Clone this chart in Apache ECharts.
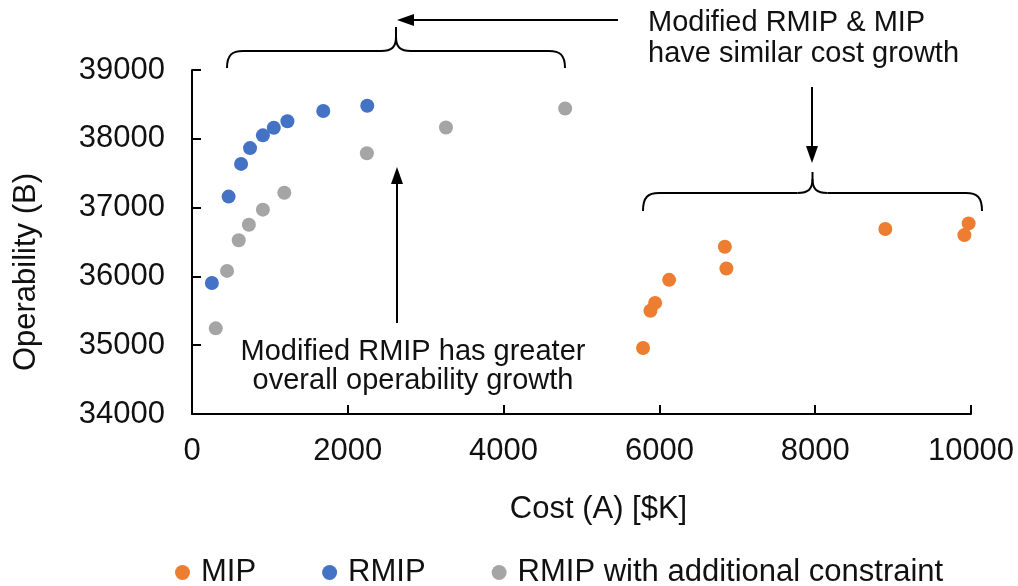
<!DOCTYPE html>
<html>
<head>
<meta charset="utf-8">
<script src="https://cdn.jsdelivr.net/npm/echarts@6/dist/echarts.min.js"></script>
<style>
html,body{margin:0;padding:0;background:#fff;}
#chart{width:1018px;height:586px;}
</style>
</head>
<body>
<div id="chart"></div>
<script>
// ---- data ----
const seriesNames = ['MIP', 'RMIP', 'RMIP with additional constraint'];
const mipCost = [5790, 5885, 5945, 6125, 6840, 6860, 8900, 9915, 9970];
const mipOper = [34960, 35500, 35615, 35950, 36430, 36115, 36690, 36600, 36770];
const rmipCost = [255, 470, 630, 745, 910, 1050, 1225, 1685, 2250];
const rmipOper = [35905, 37160, 37635, 37865, 38050, 38160, 38255, 38405, 38480];
const rmipcCost = [305, 450, 600, 730, 910, 1185, 2245, 3260, 4790];
const rmipcOper = [35245, 36080, 36525, 36750, 36970, 37215, 37790, 38165, 38440];
const xTicks = { min: 0, max: 10000, interval: 2000 };
const yTicks = { min: 34000, max: 39000, interval: 1000 };
const annotationTop = ['Modified RMIP & MIP', 'have similar cost growth'];
const annotationBottom = ['Modified RMIP has greater', 'overall operability growth'];

const FONT = '"Liberation Sans", Arial, sans-serif';
const TXT = '#111';
const colors = ['#ED7D31', '#4472C4', '#A5A5A5'];

function pairs(xs, ys) { return xs.map((x, i) => [x, ys[i]]); }

function brace(l, r, yb, ye, yt) {
  const m = (l + r) / 2;
  const st = { stroke: '#000', lineWidth: 2, fill: null };
  return [
    { type: 'bezierCurve', shape: { x1: l, y1: ye, cpx1: l, cpy1: yb + 4, cpx2: l + 5, cpy2: yb, x2: l + 16, y2: yb }, style: st },
    { type: 'line', shape: { x1: l + 16, y1: yb, x2: m - 15, y2: yb }, style: st },
    { type: 'bezierCurve', shape: { x1: m - 15, y1: yb, cpx1: m - 4, cpy1: yb, cpx2: m, cpy2: yb - 4, x2: m, y2: yb - 14 }, style: st },
    { type: 'line', shape: { x1: m, y1: yb - 14, x2: m, y2: yt }, style: st },
    { type: 'bezierCurve', shape: { x1: m + 15, y1: yb, cpx1: m + 4, cpy1: yb, cpx2: m, cpy2: yb - 4, x2: m, y2: yb - 14 }, style: st },
    { type: 'line', shape: { x1: m + 15, y1: yb, x2: r - 16, y2: yb }, style: st },
    { type: 'bezierCurve', shape: { x1: r, y1: ye, cpx1: r, cpy1: yb + 4, cpx2: r - 5, cpy2: yb, x2: r - 16, y2: yb }, style: st }
  ];
}
function arrow(x1, y1, x2, y2) {
  const dx = x2 - x1, dy = y2 - y1, len = Math.hypot(dx, dy);
  const ux = dx / len, uy = dy / len, hl = 17, hw = 6;
  const bx = x2 - ux * hl, by = y2 - uy * hl;
  return [
    { type: 'line', shape: { x1: x1, y1: y1, x2: bx, y2: by }, style: { stroke: '#000', lineWidth: 2 } },
    { type: 'polygon', shape: { points: [[x2, y2], [bx - uy * hw, by + ux * hw], [bx + uy * hw, by - ux * hw]] }, style: { fill: '#000' } }
  ];
}
function txt(s, x, y, align) {
  return { type: 'text', x: x, y: y, style: { text: s, font: '29px ' + FONT, fill: TXT, align: align, verticalAlign: 'middle' } };
}
const plain = v => String(v);

const chart = echarts.init(document.getElementById('chart'), null, { renderer: 'canvas' });
chart.setOption({
  animation: false,
  backgroundColor: '#fff',
  color: colors,
  grid: { left: 192, right: 47, top: 70, bottom: 172, containLabel: false },
  xAxis: {
    type: 'value', min: xTicks.min, max: xTicks.max, interval: xTicks.interval,
    name: 'Cost (A) [$K]', nameLocation: 'middle', nameGap: 80,
    nameTextStyle: { fontFamily: FONT, fontSize: 31, color: TXT, padding: [0, 0, 0, 34] },
    axisLine: { show: true, lineStyle: { color: '#000', width: 2 } },
    axisTick: { show: true, inside: true, length: 9, lineStyle: { color: '#000', width: 2 } },
    axisLabel: { fontFamily: FONT, fontSize: 31, color: TXT, margin: 22, formatter: plain },
    splitLine: { show: false }
  },
  yAxis: {
    type: 'value', min: yTicks.min, max: yTicks.max, interval: yTicks.interval,
    name: 'Operability (B)', nameLocation: 'middle', nameGap: 150,
    nameTextStyle: { fontFamily: FONT, fontSize: 31, color: TXT, padding: [0, 60, 0, 0] },
    axisLine: { show: true, lineStyle: { color: '#000', width: 2 } },
    axisTick: { show: true, inside: true, length: 9, lineStyle: { color: '#000', width: 2 } },
    axisLabel: { fontFamily: FONT, fontSize: 31, color: TXT, margin: 27, formatter: plain },
    splitLine: { show: false }
  },
  legend: {
    left: 170, top: 552, itemGap: 66, itemWidth: 15, itemHeight: 15, icon: 'circle',
    textStyle: { fontFamily: FONT, fontSize: 31, color: TXT, padding: [0, 0, 0, 6] },
    data: seriesNames
  },
  series: [
    { name: seriesNames[0], type: 'scatter', symbolSize: 14, itemStyle: { opacity: 1 }, data: pairs(mipCost, mipOper) },
    { name: seriesNames[1], type: 'scatter', symbolSize: 14, itemStyle: { opacity: 1 }, data: pairs(rmipCost, rmipOper) },
    { name: seriesNames[2], type: 'scatter', symbolSize: 14, itemStyle: { opacity: 1 }, data: pairs(rmipcCost, rmipcOper) }
  ],
  graphic: [].concat(
    brace(227, 565, 51, 68, 27),
    brace(643, 982, 193, 211, 172),
    arrow(618, 20, 397, 20),
    arrow(812, 87, 812, 163),
    arrow(397, 323, 397, 167),
    [
      txt(annotationTop[0], 648, 23, 'left'),
      txt(annotationTop[1], 648, 54, 'left'),
      txt(annotationBottom[0], 413, 352, 'center'),
      txt(annotationBottom[1], 413, 381, 'center')
    ]
  )
});
</script>
</body>
</html>
